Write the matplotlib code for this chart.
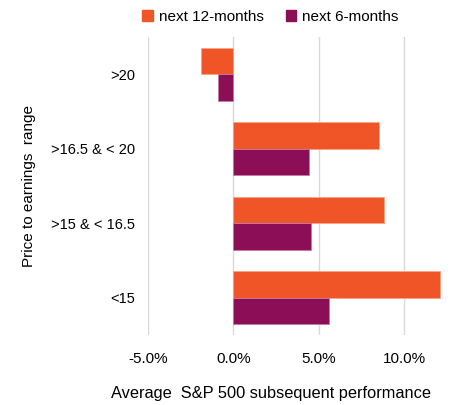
import matplotlib.pyplot as plt
import numpy as np
from matplotlib.patches import Patch

plt.rcParams['font.family'] = ['Liberation Sans', 'DejaVu Sans']

# P/E buckets, top to bottom
categories = [">20", ">16.5 & < 20", ">15 & < 16.5", "<15"]
next_12m = [-1.87, 8.5, 8.8, 12.1]   # % return
next_6m = [-0.87, 4.43, 4.57, 5.57]
x_ticks = [-5, 0, 5, 10]
x_tick_labels = ["-5.0%", "0.0%", "5.0%", "10.0%"]

c12 = "#F05528"
c6 = "#8B0E57"

fig = plt.figure(figsize=(4.51, 4.05), dpi=100)
ax = fig.add_axes([0.3275, 0.1728, 0.6505, 0.7358])

y = np.arange(len(categories))
h = 0.356
ax.barh(y - h / 2, next_12m, height=h, color=c12, edgecolor="#F7A487", linewidth=0.6, zorder=3)
ax.barh(y + h / 2, next_6m, height=h, color=c6, edgecolor="#C77AA5", linewidth=0.6, zorder=3)

ax.set_ylim(len(categories) - 0.5, -0.5)
ax.set_xlim(-5, 12.15)
ax.set_yticks(y)
ax.set_yticklabels(categories, fontsize=10.5)
ax.set_xticks(x_ticks)
ax.set_xticklabels(x_tick_labels, fontsize=11)
ax.tick_params(axis="both", length=0)
ax.tick_params(axis="y", pad=9)
ax.tick_params(axis="x", pad=12)

for s in ax.spines.values():
    s.set_visible(False)
ax.grid(axis="x", color="#D9D9D9", linewidth=1, zorder=0)

ax.set_xlabel("Average  S&P 500 subsequent performance", fontsize=11.8)
ax.xaxis.set_label_coords(0.42, -0.172)
ax.set_ylabel("Price to earnings  range", fontsize=11)
ax.yaxis.set_label_coords(-0.38, 0.5)

handles = [Patch(color=c12, label="next 12-months"), Patch(color=c6, label="next 6-months")]
fig.legend(handles=handles, loc="center", bbox_to_anchor=(0.6, 0.958), ncol=2, frameon=False,
           fontsize=11, handlelength=0.7, handleheight=0.7, handletextpad=0.4, columnspacing=1.4)

fig.savefig("out.png", dpi=100)
